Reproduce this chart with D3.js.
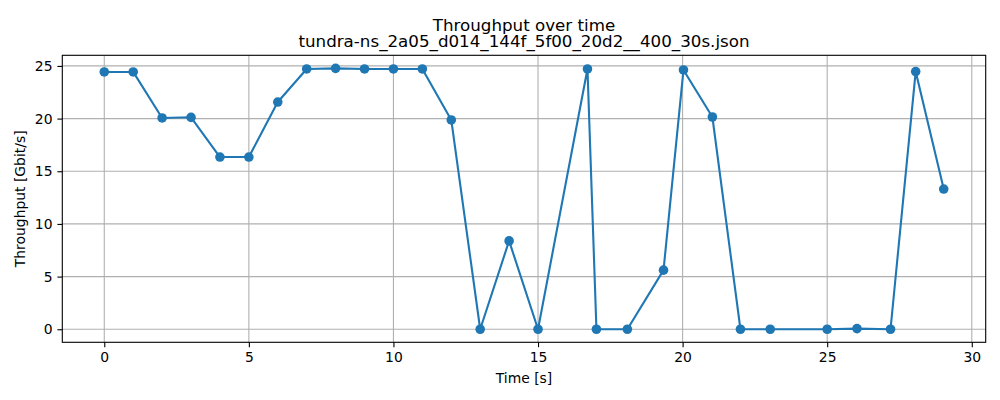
<!DOCTYPE html>
<html>
<head>
<meta charset="utf-8">
<script src="https://cdn.jsdelivr.net/npm/d3@7"></script>
<style>
  body { margin: 0; background: #fff; }
  text { font-family: "DejaVu Sans", sans-serif; fill: #000; }
</style>
</head>
<body>
<svg id="chart" width="1000" height="400"></svg>
<script>
// throughput samples
const times = [0, 1, 2, 3, 4, 5, 6, 7, 8, 9, 10, 11, 12, 13, 14, 15,
    16.71, 17.02, 18.09, 19.34, 20.03, 21.03, 22.0, 23.03, 25.0, 26.03, 27.19, 28.06, 29.03];
const throughput = [24.43, 24.43, 20.06, 20.12, 16.35, 16.35, 21.57, 24.71, 24.77, 24.71, 24.71, 24.71, 19.87, 0, 8.39, 0,
    24.71, 0, 0, 5.61, 24.62, 20.15, 0, 0, 0, 0.06, 0, 24.46, 13.31];
const xTicks = [0, 5, 10, 15, 20, 25, 30];
const yTicks = [0, 5, 10, 15, 20, 25];
const titleLines = ["Throughput over time", "tundra-ns_2a05_d014_144f_5f00_20d2__400_30s.json"];

const points = times.map((t, i) => ({ t: t, v: throughput[i] }));

const width = 1000, height = 400;
const margin = { top: 55.3, right: 14.3, bottom: 57.7, left: 62.3 };
const innerW = width - margin.left - margin.right;
const innerH = height - margin.top - margin.bottom;

// matplotlib style 5% padding around the data
function padded(ext) {
    const p = (ext[1] - ext[0]) * 0.05;
    return [ext[0] - p, ext[1] + p];
}

const x = d3.scaleLinear().domain(padded(d3.extent(times))).range([0, innerW]);
const y = d3.scaleLinear().domain(padded(d3.extent(throughput))).range([innerH, 0]);

const svg = d3.select("#chart");
const g = svg.append("g").attr("transform", `translate(${margin.left},${margin.top})`);

// grid
g.append("g").selectAll("line").data(xTicks).join("line")
    .attr("x1", d => x(d)).attr("x2", d => x(d))
    .attr("y1", 0).attr("y2", innerH)
    .attr("stroke", "#b0b0b0").attr("stroke-width", 1.1);
g.append("g").selectAll("line").data(yTicks).join("line")
    .attr("x1", 0).attr("x2", innerW)
    .attr("y1", d => y(d)).attr("y2", d => y(d))
    .attr("stroke", "#b0b0b0").attr("stroke-width", 1.1);

// axes
const xAxis = g.append("g").attr("transform", `translate(0,${innerH})`)
    .call(d3.axisBottom(x).tickValues(xTicks).tickFormat(d3.format("d")).tickSize(4.9).tickPadding(4.9));
const yAxis = g.append("g")
    .call(d3.axisLeft(y).tickValues(yTicks).tickFormat(d3.format("d")).tickSize(4.9).tickPadding(4.9));
[xAxis, yAxis].forEach(a => {
    a.select(".domain").remove();
    a.selectAll(".tick line").attr("stroke", "#000").attr("stroke-width", 1.1);
    a.selectAll(".tick text").attr("font-size", 13.9).attr("font-family", "DejaVu Sans").attr("fill", "#000");
});

// line + markers
const line = d3.line().x(d => x(d.t)).y(d => y(d.v));
g.append("path").datum(points)
    .attr("d", line)
    .attr("fill", "none")
    .attr("stroke", "#1f77b4")
    .attr("stroke-width", 2.1)
    .attr("stroke-linejoin", "round");
g.append("g").selectAll("circle").data(points).join("circle")
    .attr("cx", d => x(d.t)).attr("cy", d => y(d.v))
    .attr("r", 4.8)
    .attr("fill", "#1f77b4");

// frame
g.append("rect")
    .attr("width", innerW).attr("height", innerH)
    .attr("fill", "none").attr("stroke", "#000").attr("stroke-width", 1.1);

// titles and labels (two-line title as one text, like matplotlib)
const cx = margin.left + innerW / 2;
svg.append("text").attr("x", cx).attr("y", 30.5)
    .attr("text-anchor", "middle").attr("font-size", 16.7)
    .selectAll("tspan").data(titleLines).join("tspan")
    .attr("x", cx)
    .attr("dy", (d, i) => i === 0 ? 0 : 16.3)
    .text(d => d);
svg.append("text").attr("x", cx).attr("y", 382.5)
    .attr("text-anchor", "middle").attr("font-size", 13.9).text("Time [s]");
svg.append("text")
    .attr("transform", `translate(25.3,${margin.top + innerH / 2}) rotate(-90)`)
    .attr("text-anchor", "middle").attr("font-size", 13.9).text("Throughput [Gbit/s]");
</script>
</body>
</html>
